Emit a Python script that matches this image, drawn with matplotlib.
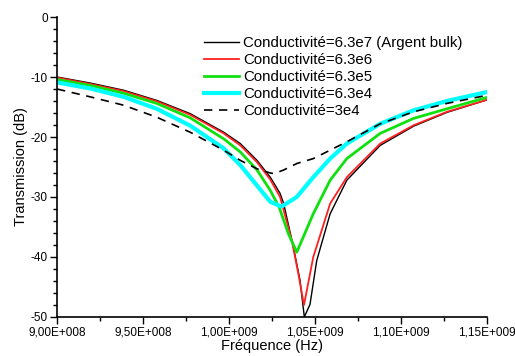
import matplotlib
matplotlib.use("Agg")
import matplotlib.pyplot as plt
from matplotlib.ticker import MultipleLocator, FuncFormatter

plt.rcParams["font.family"] = ["Liberation Sans", "DejaVu Sans"]
plt.rcParams["axes.unicode_minus"] = False

# ── data (frequency in GHz, transmission in dB) ──
f_black = [0.900, 0.9192, 0.9387, 0.958, 0.9774, 0.9969, 1.0066, 1.0163, 1.0240,
           1.0297, 1.0318, 1.0374, 1.0413, 1.0438, 1.0471, 1.0510, 1.0588, 1.0685,
           1.0879, 1.1073, 1.1267, 1.150]
t_black = [-10.0, -11.0, -12.2, -13.9, -16.1, -19.2, -21.1, -23.9, -26.7,
           -29.4, -31.1, -38.3, -43.9, -50.0, -47.9, -40.6, -32.8, -27.2,
           -21.4, -18.2, -15.9, -13.8]

f_red = [0.900, 0.9192, 0.9387, 0.958, 0.9774, 0.9969, 1.0066, 1.0163, 1.0240,
         1.0297, 1.0365, 1.0403, 1.0436, 1.0490, 1.0588, 1.0685, 1.0879, 1.1073,
         1.1267, 1.150]
t_red = [-10.1, -11.15, -12.35, -14.05, -16.3, -19.4, -21.4, -24.2, -27.1,
         -30.0, -37.2, -42.8, -48.0, -40.0, -31.1, -26.7, -21.1, -18.05,
         -15.8, -13.8]

f_green = [0.900, 0.9192, 0.9387, 0.958, 0.9774, 0.9969, 1.0066, 1.0163, 1.0240,
           1.0293, 1.0345, 1.0394, 1.0490, 1.0588, 1.0685, 1.0879, 1.1073,
           1.1267, 1.150]
t_green = [-10.4, -11.4, -12.7, -14.4, -16.8, -20.3, -22.5, -25.5, -28.9,
           -31.8, -36.1, -39.2, -32.8, -27.2, -23.6, -19.4, -16.9,
           -15.3, -13.4]

f_cyan = [0.900, 0.9192, 0.9387, 0.958, 0.9774, 0.9969, 1.0066, 1.0163, 1.0240,
          1.0305, 1.0394, 1.0490, 1.0588, 1.0685, 1.0879, 1.1073, 1.1267, 1.150]
t_cyan = [-10.9, -11.9, -13.3, -15.3, -18.1, -21.9, -24.7, -28.1, -30.8,
          -31.6, -30.0, -26.7, -23.6, -21.1, -17.8, -15.55, -14.0, -12.5]

f_dash = [0.900, 0.9192, 0.9387, 0.958, 0.9774, 0.9969, 1.0066, 1.0163, 1.0240,
          1.0262, 1.0318, 1.0396, 1.0490, 1.0685, 1.0879, 1.1073, 1.1267, 1.150]
t_dash = [-12.0, -13.3, -14.7, -16.7, -19.2, -22.2, -23.9, -25.3, -26.0,
          -26.1, -25.5, -24.4, -23.6, -20.8, -17.8, -15.8, -14.4, -13.05]

labels = ["Conductivité=6.3e7 (Argent bulk)", "Conductivité=6.3e6",
          "Conductivité=6.3e5", "Conductivité=6.3e4", "Conductivité=3e4"]


def hz(f):
    return [v * 1e9 for v in f]


def sci_fmt(x, pos):
    # Origin-style label: 9,00E+008
    if x == 0:
        return "0"
    exp = 0
    m = x
    while abs(m) >= 10:
        m /= 10
        exp += 1
    return f"{m:.2f}".replace(".", ",") + f"E+{exp:03d}"


fig = plt.figure(figsize=(5.15, 3.56), dpi=100)
ax = fig.add_axes([0.1107, 0.1096, 0.8349, 0.8426])

ax.plot(hz(f_black), t_black, color="black", lw=1.0, label=labels[0])
ax.plot(hz(f_red), t_red, color="#ff2020", lw=1.3, label=labels[1])
ax.plot(hz(f_green), t_green, color="#10e010", lw=2.0, label=labels[2])
ax.plot(hz(f_cyan), t_cyan, color="#00ffff", lw=3.0, label=labels[3])
ax.plot(hz(f_dash), t_dash, color="black", lw=1.2, ls=(0, (5, 4)), label=labels[4])

ax.set_xlim(0.9e9, 1.15e9)
ax.set_ylim(-50, 0)
ax.xaxis.set_major_locator(MultipleLocator(0.05e9))
ax.xaxis.set_minor_locator(MultipleLocator(0.025e9))
ax.yaxis.set_major_locator(MultipleLocator(10))
ax.yaxis.set_minor_locator(MultipleLocator(2))
ax.xaxis.set_major_formatter(FuncFormatter(sci_fmt))

for s in ["top", "right"]:
    ax.spines[s].set_visible(False)
for s in ["left", "bottom"]:
    ax.spines[s].set_linewidth(1.2)
ax.tick_params(which="major", direction="out", length=5, width=1, labelsize=8.5, pad=1.5)
ax.tick_params(which="minor", direction="out", length=3, width=1)

ax.set_xlabel("Fréquence (Hz)", fontsize=10.5, labelpad=1)
ax.set_ylabel("Transmission (dB)", fontsize=10.5, labelpad=2)

ax.legend(loc="upper left", bbox_to_anchor=(204 / 515, 1 - 36 / 356),
          bbox_transform=fig.transFigure, frameon=False, fontsize=10.8,
          borderpad=0, borderaxespad=0, handlelength=2.3,
          handletextpad=0.3, labelspacing=0.2)

fig.savefig("out.png", dpi=100)
